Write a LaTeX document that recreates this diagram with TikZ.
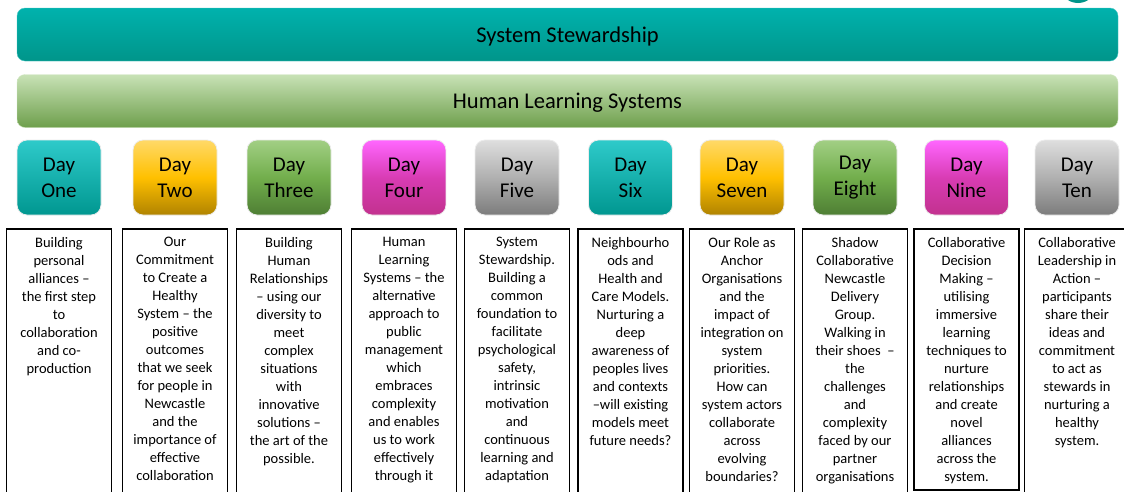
\documentclass[tikz,border=0pt]{standalone}
\usepackage{fontspec}
\setmainfont{Carlito}
\usepackage{xcolor}
\usetikzlibrary{positioning}

% colours of the bands and day tiles
\definecolor{tealtop}{HTML}{00B2AD}
\definecolor{tealbot}{HTML}{00958A}
\definecolor{greentop}{HTML}{C8E2B6}
\definecolor{greenbot}{HTML}{6E9F4C}
\definecolor{tileteal}{HTML}{2ECACA}
\definecolor{tiletealbot}{HTML}{009790}
\definecolor{tileyel}{HTML}{FFD968}
\definecolor{tileyelmid}{HTML}{FFC000}
\definecolor{tileyelbot}{HTML}{B08300}
\definecolor{tilegrn}{HTML}{A2CF84}
\definecolor{tilegrnmid}{HTML}{72AE4C}
\definecolor{tilegrnbot}{HTML}{4E7E34}
\definecolor{tilemag}{HTML}{FF66FF}
\definecolor{tilemagmid}{HTML}{D83CB4}
\definecolor{tilemagbot}{HTML}{C2318E}
\definecolor{tilegry}{HTML}{DEDEDE}
\definecolor{tilegrymid}{HTML}{B0B0B0}
\definecolor{tilegrybot}{HTML}{7C7C7C}

% text column under each day: top aligned, fixed height
\newcommand{\daynote}[2][252pt]{\parbox[t][#1][t]{103pt}{\centering #2}}

\begin{document}
\begin{tikzpicture}[
  x=1pt, y=-1pt,
  node distance=13pt,
  band/.style={rounded corners=8pt, minimum width=1101pt, minimum height=53pt,
               text depth=0pt, font=\fontsize{22.5}{26}\selectfont},
  tile/.style={draw=white!85!gray, line width=0.8pt, rounded corners=10pt,
               minimum width=84pt, minimum height=75pt, align=center,
               font=\fontsize{21}{26}\selectfont},
  teal/.style={tile, top color=tileteal, bottom color=tiletealbot},
  yel/.style={tile, top color=tileyel, bottom color=tileyelbot, middle color=tileyelmid},
  grn/.style={tile, top color=tilegrn, bottom color=tilegrnbot, middle color=tilegrnmid},
  mag/.style={tile, top color=tilemag, bottom color=tilemagbot, middle color=tilemagmid},
  gry/.style={tile, top color=tilegry, bottom color=tilegrybot, middle color=tilegrymid},
  note/.style={draw=black, line width=1.3pt, inner xsep=1pt, inner ysep=8pt,
               anchor=north, font=\fontsize{14.5}{18}\selectfont},
]
\useasboundingbox (0,0) rectangle (1124,491);
\clip (0,0) rectangle (1124,491);

% corner of a shape above the frame
\fill[tealbot] (1078,-16) circle (19);

\node[band, draw=tealtop!70!white, top color=tealtop, bottom color=tealbot]
  (stewardship) at (567.5,34.5) {System Stewardship};
\node[band, draw=greentop!80!white, top color=greentop, bottom color=greenbot]
  (hls) at (567.5,101) {Human Learning Systems};

\node[teal] (one)   at (59,177.5)    {Day\\One};
\node[yel]  (two)   at (175,177.5)   {Day\\Two};
\node[grn]  (three) at (289,177.5)   {Day\\Three};
\node[mag]  (four)  at (404,177.5)   {Day\\Four};
\node[gry]  (five)  at (517,177.5)   {Day\\Five};
\node[teal] (six)   at (630.5,177.5) {Day\\Six};
\node[yel]  (seven) at (742,177.5)   {Day\\Seven};
\node[grn]  (eight) at (855,177.5)   {Day\\Eight};
\node[mag]  (nine)  at (966.5,177.5) {Day\\Nine};
\node[gry]  (ten)   at (1077,177.5)  {Day\\Ten};

\node[note, below=of one.south]   (onetxt)   {\daynote{Building\\ personal\\ alliances --\\ the first step\\ to\\ collaboration\\ and co-\\ production}};
\node[note, below=of two.south]   (twotxt)   {\daynote{Our\\ Commitment\\ to Create a\\ Healthy\\ System -- the\\ positive\\ outcomes\\ that we seek\\ for people in\\ Newcastle\\ and the\\ importance of\\ effective\\ collaboration}};
\node[note, below=of three.south] (threetxt) {\daynote{Building\\ Human\\ Relationships\\ -- using our\\ diversity to\\ meet\\ complex\\ situations\\ with\\ innovative\\ solutions --\\ the art of the\\ possible.}};
\node[note, below=of four.south]  (fourtxt)  {\daynote{Human\\ Learning\\ Systems -- the\\ alternative\\ approach to\\ public\\ management\\ which\\ embraces\\ complexity\\ and enables\\ us to work\\ effectively\\ through it}};
\node[note, below=of five.south]  (fivetxt)  {\daynote{System\\ Stewardship.\\ Building a\\ common\\ foundation to\\ facilitate\\ psychological\\ safety,\\ intrinsic\\ motivation\\ and\\ continuous\\ learning and\\ adaptation}};
\node[note, below=of six.south]   (sixtxt)   {\daynote{Neighbourho\\ ods and\\ Health and\\ Care Models.\\ Nurturing a\\ deep\\ awareness of\\ peoples lives\\ and contexts\\ --will existing\\ models meet\\ future needs?}};
\node[note, below=of seven.south] (seventxt) {\daynote{Our Role as\\ Anchor\\ Organisations\\ and the\\ impact of\\ integration on\\ system\\ priorities.\\ How can\\ system actors\\ collaborate\\ across\\ evolving\\ boundaries?}};
\node[note, below=of eight.south] (eighttxt) {\daynote{Shadow\\ Collaborative\\ Newcastle\\ Delivery\\ Group.\\ Walking in\\ their shoes~ --\\ the\\ challenges\\ and\\ complexity\\ faced by our\\ partner\\ organisations}};
\node[note, below=of nine.south]  (ninetxt)  {\daynote[245pt]{Collaborative\\ Decision\\ Making --\\ utilising\\ immersive\\ learning\\ techniques to\\ nurture\\ relationships\\ and create\\ novel\\ alliances\\ across the\\ system.}};
\node[note, below=of ten.south]   (tentxt)   {\daynote{Collaborative\\ Leadership in\\ Action --\\ participants\\ share their\\ ideas and\\ commitment\\ to act as\\ stewards in\\ nurturing a\\ healthy\\ system.}};
\end{tikzpicture}
\end{document}
